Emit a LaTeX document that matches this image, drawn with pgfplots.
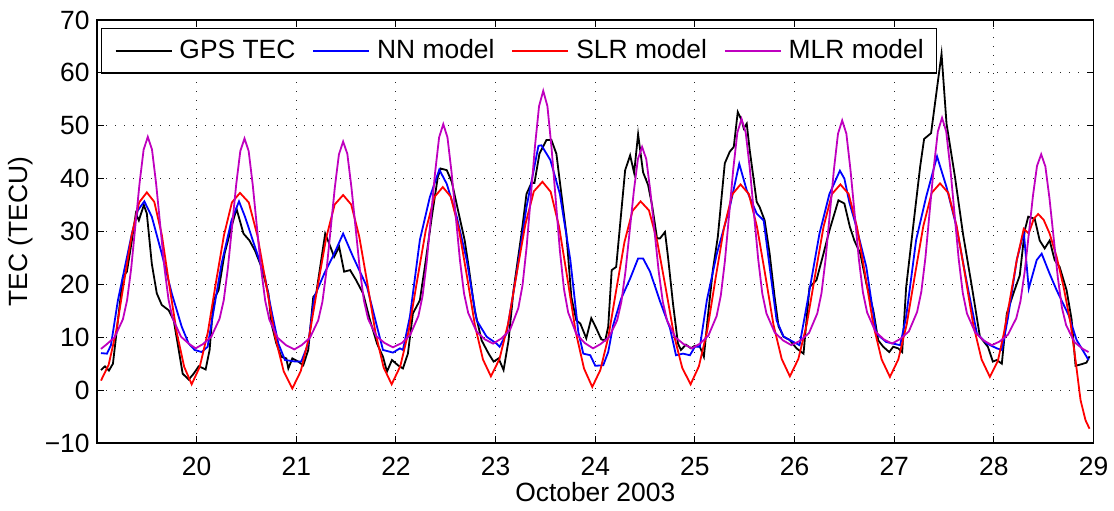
\documentclass[border=0pt]{standalone}
\usepackage{fontspec}
\setmainfont{Liberation Sans}
\usepackage{pgfplots}
\usepackage{pgfplotstable}
\pgfplotsset{compat=1.18}
\definecolor{mlrmag}{rgb}{0.75,0,0.75}

% Observed GPS TEC, 19-29 October 2003
\pgfplotstableread{
day tec
19.04 3.8
19.08 4.5
19.12 3.7
19.16 5.0
19.21 13.2
19.26 21.4
19.30 22.4
19.35 28.3
19.39 33.4
19.42 32.1
19.47 35.0
19.50 33.4
19.55 23.9
19.60 18.3
19.65 16.1
19.72 15.1
19.77 13.2
19.82 7.6
19.86 3.1
19.92 2.0
19.97 3.1
20.02 4.5
20.07 4.1
20.09 3.9
20.13 7.6
20.17 17.0
20.22 18.9
20.28 25.8
20.35 30.9
20.40 34.3
20.47 29.6
20.53 28.3
20.585 26.4
20.65 23.3
20.72 18.3
20.75 12.6
20.80 8.8
20.85 6.3
20.90 6.0
20.92 4.1
20.96 6.0
21.02 5.4
21.07 4.7
21.12 7.6
21.17 17.6
21.20 18.3
21.25 24.6
21.29 29.6
21.33 27.7
21.38 25.2
21.43 27.1
21.48 22.4
21.54 22.7
21.60 20.8
21.67 18.3
21.74 13.2
21.81 8.8
21.87 6.3
21.91 3.5
21.96 5.7
22.02 4.7
22.07 4.1
22.12 6.9
22.17 14.5
22.24 17.0
22.29 23.3
22.36 32.8
22.42 40.3
22.45 41.9
22.51 41.6
22.56 39.4
22.63 33.4
22.69 28.3
22.73 23.3
22.79 15.1
22.86 9.4
22.93 6.9
22.98 5.4
23.03 6.0
23.08 3.8
23.13 9.4
23.18 18.9
23.26 29.6
23.31 37.1
23.36 39.2
23.39 39.2
23.44 44.7
23.51 47.3
23.56 47.3
23.61 44.7
23.66 37.1
23.71 29.6
23.76 17.6
23.81 13.2
23.85 12.6
23.91 9.8
23.96 13.6
24.01 11.7
24.06 9.6
24.10 9.4
24.13 12.0
24.165 22.7
24.21 23.3
24.30 41.6
24.35 44.4
24.39 41.1
24.43 48.4
24.48 41.2
24.53 38.8
24.57 35.0
24.62 28.7
24.65 28.7
24.70 29.9
24.73 25.2
24.78 16.4
24.83 8.8
24.86 7.6
24.91 8.6
24.96 7.9
25.00 8.4
25.05 8.2
25.09 6.3
25.13 13.9
25.18 22.7
25.23 29.0
25.30 42.9
25.35 45.1
25.39 46.0
25.43 52.6
25.47 51.0
25.49 49.5
25.52 50.4
25.55 45.4
25.62 35.6
25.65 34.6
25.70 32.1
25.75 25.8
25.80 17.6
25.84 12.0
25.89 10.1
25.95 9.5
26.02 7.9
26.09 6.9
26.15 19.5
26.22 20.8
26.29 25.8
26.35 30.2
26.44 35.9
26.50 35.3
26.555 30.9
26.60 28.3
26.66 25.8
26.72 20.2
26.79 15.1
26.84 9.4
26.89 8.2
26.95 7.2
26.99 8.2
27.04 7.9
27.08 7.2
27.12 19.5
27.19 30.9
27.26 42.2
27.30 47.5
27.37 48.6
27.475 63.6
27.525 50.4
27.61 40.3
27.69 29.6
27.78 19.5
27.86 10.1
27.94 8.2
27.99 5.4
28.03 5.7
28.08 5.0
28.13 14.5
28.20 18.5
28.26 21.7
28.31 30.2
28.345 32.8
28.41 32.4
28.46 28.3
28.51 26.8
28.56 28.3
28.61 24.6
28.66 23.3
28.73 18.9
28.78 13.4
28.82 4.6
28.88 4.9
28.93 5.2
28.96 6.4
}\gpstec

% Neural network model
\pgfplotstableread{
day tec
19.04 7.0
19.10 6.9
19.14 8.5
19.21 17.0
19.28 23.3
19.35 29.6
19.41 34.0
19.475 35.7
19.55 32.8
19.65 25.8
19.75 18.3
19.85 12.0
19.92 8.8
19.98 7.6
20.05 7.2
20.11 8.2
20.16 13.9
20.25 23.9
20.35 32.1
20.425 35.7
20.485 32.8
20.585 27.1
20.685 21.4
20.75 15.1
20.82 8.8
20.886 5.7
20.99 5.4
21.05 5.4
21.12 8.8
21.18 17.6
21.28 22.0
21.38 25.8
21.47 29.6
21.57 25.2
21.71 19.5
21.81 12.0
21.87 7.6
21.97 7.1
22.04 7.9
22.07 7.6
22.14 13.9
22.24 28.4
22.34 36.5
22.435 41.7
22.51 39.0
22.61 32.8
22.71 24.6
22.81 13.2
22.91 10.1
23.01 8.8
23.04 8.2
23.11 10.7
23.21 22.0
23.31 34.6
23.43 46.2
23.46 46.3
23.55 43.5
23.645 37.1
23.75 24.6
23.83 11.0
23.88 6.9
23.95 6.6
24.00 4.6
24.08 4.7
24.13 7.2
24.18 12.3
24.26 17.3
24.35 21.1
24.43 24.9
24.48 24.9
24.55 22.4
24.65 16.8
24.75 11.7
24.81 6.6
24.88 6.9
24.95 6.6
25.00 8.2
25.05 8.2
25.12 17.0
25.22 25.8
25.35 34.6
25.445 42.8
25.52 37.8
25.62 33.4
25.69 32.1
25.75 23.3
25.82 13.2
25.89 10.1
25.95 9.5
26.05 8.5
26.15 18.9
26.25 29.6
26.35 37.1
26.455 41.5
26.50 40.0
26.55 35.5
26.62 30.9
26.72 23.3
26.82 10.7
26.92 9.1
27.06 8.5
27.12 13.9
27.22 28.4
27.32 36.5
27.43 44.2
27.525 38.4
27.625 30.9
27.73 20.2
27.83 10.7
27.93 8.8
28.03 7.9
28.08 7.6
28.14 13.5
28.23 24.6
28.30 29.9
28.35 19.2
28.43 24.6
28.48 25.8
28.56 22.0
28.63 18.9
28.75 14.2
28.83 9.5
28.95 5.7
}\nnmodel

% Single linear regression model
\pgfplotstableread{
day tec
19.04 1.8
19.117 4.8
19.193 11.2
19.27 20.3
19.347 29.2
19.423 35.5
19.50 37.4
19.575 35.6
19.65 29.4
19.725 19.9
19.80 10.9
19.875 4.4
19.95 1.1
20.031 4.4
20.112 10.9
20.193 20.3
20.274 29.3
20.354 35.5
20.435 37.3
20.523 35.5
20.61 29.2
20.698 19.9
20.785 10.3
20.873 3.6
20.96 0.3
21.045 3.6
21.13 10.2
21.215 19.7
21.30 28.8
21.385 35.1
21.47 36.9
21.551 35.1
21.632 29.0
21.714 20.1
21.795 10.8
21.876 4.3
21.957 1.1
22.043 4.5
22.128 11.2
22.214 20.9
22.299 30.2
22.385 36.5
22.47 38.4
22.55 36.6
22.631 30.5
22.712 21.6
22.792 12.3
22.873 5.8
22.953 2.6
23.039 5.9
23.125 12.5
23.212 22.1
23.298 31.3
23.384 37.6
23.47 39.4
23.553 37.5
23.637 30.9
23.72 21.2
23.803 11.1
23.887 4.1
23.97 0.6
24.051 3.8
24.132 10.1
24.213 19.2
24.293 28.0
24.374 33.9
24.455 35.7
24.539 34.0
24.622 28.1
24.706 19.4
24.79 10.4
24.873 4.2
24.957 1.1
25.04 4.5
25.124 11.3
25.207 21.1
25.291 30.6
25.374 37.0
25.458 38.9
25.541 37.1
25.623 30.9
25.706 21.8
25.788 12.4
25.871 5.9
25.953 2.6
26.038 5.9
26.122 12.4
26.207 21.8
26.291 30.9
26.376 37.1
26.46 38.9
26.543 37.1
26.626 30.9
26.709 21.8
26.791 12.3
26.874 5.8
26.957 2.5
27.041 5.8
27.125 12.4
27.209 21.9
27.292 31.0
27.376 37.3
27.46 39.1
27.543 37.3
27.627 31.0
27.71 21.9
27.793 12.4
27.877 5.8
27.96 2.5
28.04 5.5
28.10 10.7
28.16 17.0
28.23 24.6
28.30 30.5
28.35 29.6
28.40 32.4
28.445 33.3
28.50 32.2
28.56 29.6
28.63 25.2
28.70 19.5
28.77 12.6
28.82 5.6
28.87 -1.9
28.92 -5.7
28.96 -7.3
}\slrmodel

% Multiple linear regression model
\pgfplotstableread{
day tec
19.04 7.8
19.093 8.6
19.177 10.0
19.26 13.4
19.302 17.0
19.343 23.0
19.385 31.1
19.427 39.1
19.468 45.5
19.51 47.9
19.552 45.5
19.593 39.1
19.635 31.1
19.677 23.1
19.718 17.1
19.76 13.5
19.843 10.1
19.927 8.7
19.99 7.9
20.063 8.7
20.147 10.1
20.23 13.5
20.272 17.0
20.313 23.0
20.355 30.9
20.397 38.9
20.438 45.2
20.48 47.6
20.522 45.2
20.563 38.8
20.605 30.8
20.647 22.9
20.688 16.9
20.73 13.3
20.813 9.9
20.897 8.5
20.98 7.7
21.053 8.5
21.137 9.9
21.22 13.2
21.262 16.7
21.303 22.6
21.345 30.5
21.387 38.4
21.428 44.6
21.47 47.0
21.512 44.7
21.553 38.4
21.595 30.7
21.637 22.9
21.678 17.0
21.72 13.5
21.803 10.2
21.887 8.9
21.97 8.1
22.058 8.9
22.142 10.4
22.225 14.0
22.267 17.8
22.308 24.1
22.35 32.6
22.392 41.0
22.433 47.8
22.475 50.3
22.517 47.8
22.558 41.2
22.6 32.9
22.642 24.6
22.683 18.3
22.725 14.6
22.808 11.1
22.892 9.6
22.975 8.8
23.061 9.8
23.145 11.4
23.228 15.5
23.27 19.8
23.311 27.0
23.353 36.5
23.395 46.1
23.436 53.7
23.478 56.6
23.52 53.7
23.561 45.9
23.603 36.1
23.645 26.4
23.686 19.1
23.728 14.7
23.811 10.6
23.895 8.9
23.978 7.9
24.053 8.7
24.137 10.0
24.22 13.2
24.262 16.7
24.303 22.4
24.345 30.0
24.387 37.6
24.428 43.7
24.47 46.0
24.512 43.7
24.553 37.6
24.595 30.0
24.637 22.4
24.678 16.7
24.72 13.2
24.803 10.0
24.887 8.7
24.97 7.9
25.051 8.8
25.135 10.3
25.218 14.0
25.26 17.9
25.301 24.4
25.343 33.1
25.385 41.8
25.426 48.7
25.468 51.3
25.51 48.7
25.551 41.9
25.593 33.3
25.635 24.8
25.676 18.3
25.718 14.5
25.801 10.9
25.885 9.4
25.968 8.5
26.061 9.4
26.145 10.8
26.228 14.5
26.27 18.3
26.311 24.7
26.353 33.2
26.395 41.7
26.436 48.5
26.478 51.0
26.52 48.5
26.561 41.7
26.603 33.3
26.645 24.8
26.686 18.5
26.728 14.7
26.811 11.1
26.895 9.6
26.978 8.8
27.063 9.7
27.147 11.1
27.23 14.8
27.272 18.6
27.313 25.0
27.355 33.6
27.397 42.1
27.438 48.9
27.48 51.5
27.522 48.9
27.563 42.0
27.605 33.4
27.647 24.8
27.688 18.4
27.73 14.5
27.813 10.9
27.897 9.4
27.98 8.5
28.058 9.2
28.142 10.5
28.225 13.6
28.267 16.8
28.308 22.2
28.35 29.4
28.392 36.7
28.433 42.4
28.475 44.6
28.517 42.3
28.558 36.3
28.6 28.8
28.642 21.3
28.683 15.6
28.725 12.3
28.808 9.1
28.892 7.8
28.95 7.2
}\mlrmodel

\begin{document}
\begin{tikzpicture}[font=\fontsize{13.2bp}{15.8bp}\selectfont]
\begin{axis}[
  at={(0,0)}, anchor=south west,
  scale only axis, width=498.25bp, height=211.5bp,
  font=\fontsize{13.2bp}{15.8bp}\selectfont,
  xmin=19, xmax=29, ymin=-10, ymax=70,
  xtick={20,21,...,29},
  ytick={-10,0,10,20,30,40,50,60,70},
  yticklabels={−10,0,10,20,30,40,50,60,70},
  /pgf/number format/assume math mode=true,
  tick align=inside, major tick length=3.3bp,
  every tick/.style={black, line width=0.5bp},
  axis line style={black, line width=0.7bp},
  grid=major,
  major grid style={black!85, line width=0.5bp, dash pattern=on 0.5bp off 4bp},
  xticklabel style={inner sep=0pt, yshift=-7bp},
  yticklabel style={inner sep=0pt, xshift=-3.5bp},
  xlabel={October 2003},
  xlabel style={at={(axis description cs:0.5,-0.0915)}, anchor=north, inner sep=0pt},
  ylabel={TEC (TECU)},
  ylabel style={at={(axis description cs:-0.0639,0.5)}, anchor=south, inner sep=0pt},
  legend columns=4,
  legend cell align=left,
  legend image code/.code={\draw[#1] (0bp,0bp) -- (28bp,0bp);},
  legend style={at={(0.004,0.981)}, anchor=north west, draw=black,
    line width=0.7bp, fill=white, inner xsep=6.5bp, inner ysep=5.5bp,
    nodes={inner sep=0pt},
    /tikz/every odd column/.append style={column sep=3.5bp},
    /tikz/every even column/.append style={column sep=8.5bp}},
  every axis plot/.append style={line width=0.9bp, no marks},
]
\addplot[black] table[x=day, y=tec] {\gpstec};
\addlegendentry{GPS TEC}
\addplot[blue] table[x=day, y=tec] {\nnmodel};
\addlegendentry{NN model}
\addplot[red] table[x=day, y=tec] {\slrmodel};
\addlegendentry{SLR model}
\addplot[mlrmag] table[x=day, y=tec] {\mlrmodel};
\addlegendentry{MLR model}
\end{axis}
\pgfresetboundingbox
\path[use as bounding box] (-48.5bp,-34bp) rectangle (508.5bp,221.5bp);
\end{tikzpicture}
\end{document}
